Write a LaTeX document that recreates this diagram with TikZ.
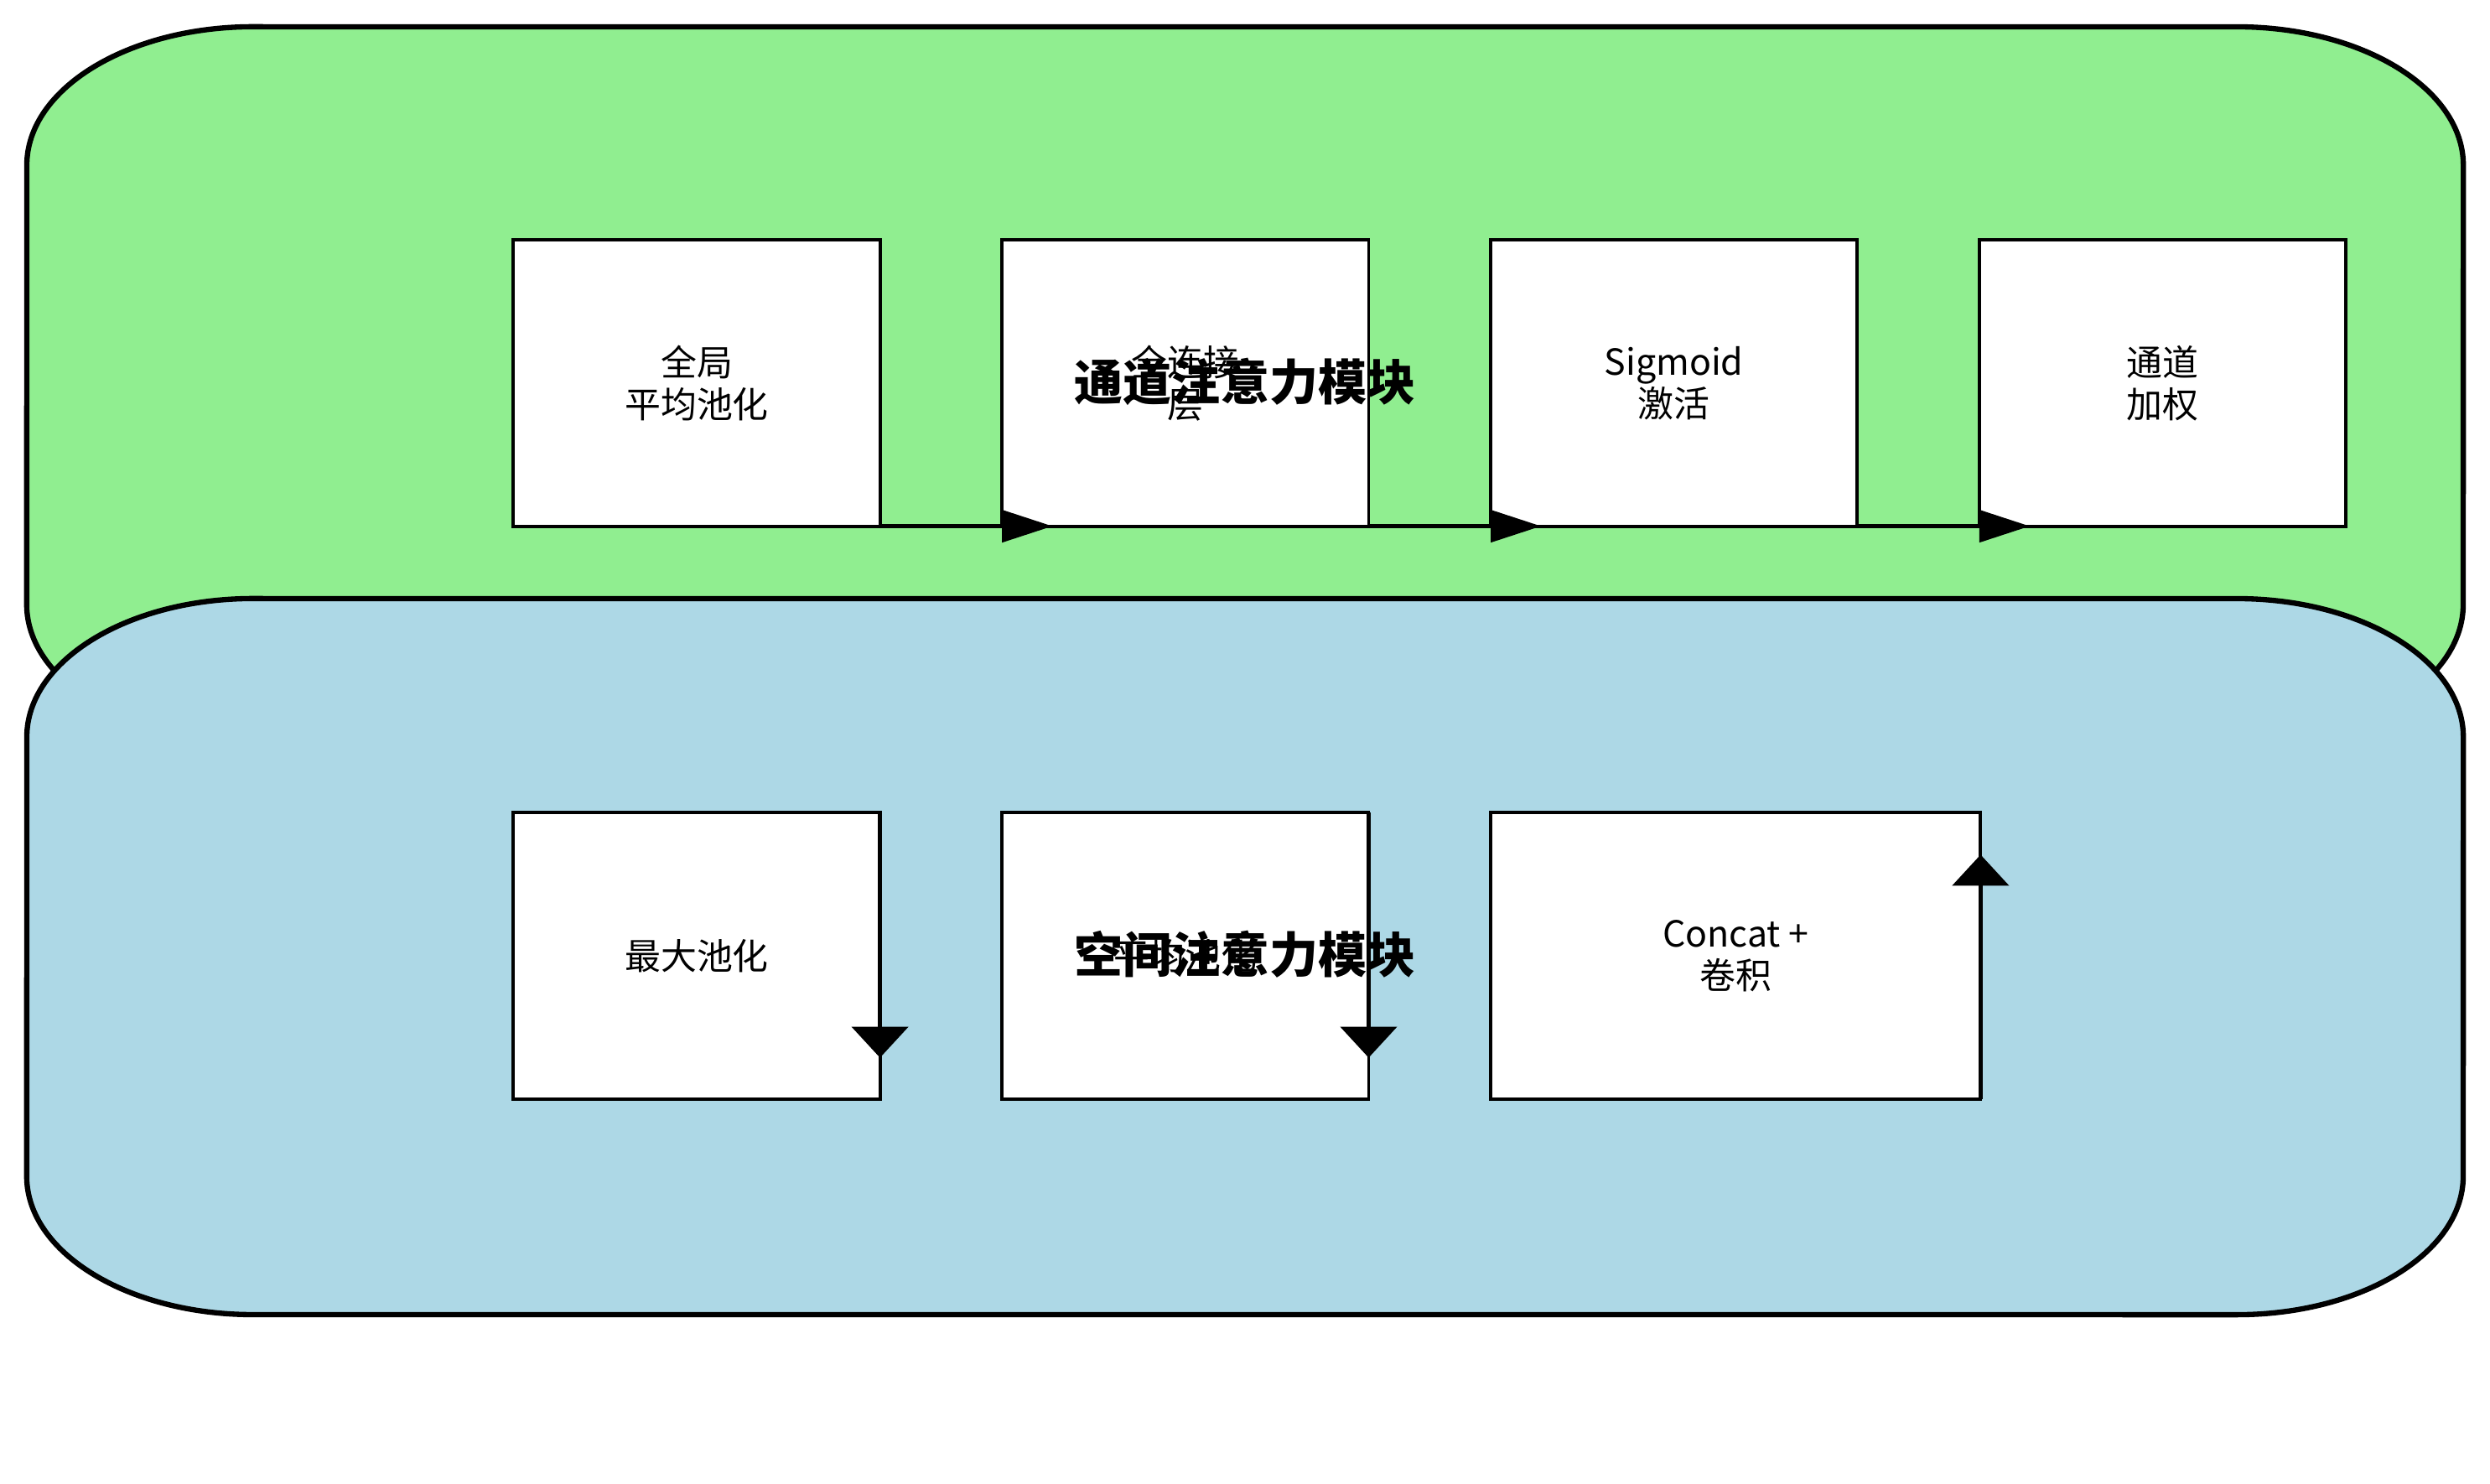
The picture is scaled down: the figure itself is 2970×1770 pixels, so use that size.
\documentclass[tikz,border=0pt]{standalone}
\usepackage{fontspec}
\setmainfont{Noto Sans CJK SC}
\usetikzlibrary{positioning}
\usetikzlibrary{arrows.meta}
\definecolor{chgreen}{HTML}{90EE90}
\definecolor{spblue}{HTML}{ADD8E6}
\tikzstyle{stage}=[rectangle, draw=black, fill=white, line width=1.1pt,
  minimum width=4.37cm, minimum height=3.41cm, inner sep=0pt, outer sep=0pt,
  align=center, font=\fontsize{12.2pt}{14.2pt}\selectfont]
\tikzstyle{widestage}=[stage, minimum width=5.84cm]
\tikzstyle{module}=[line width=1.8pt, draw=black]
\tikzstyle{heading}=[inner sep=0pt, font=\fontsize{16.5pt}{19pt}\selectfont\bfseries]
\tikzstyle{arrh}=[-{Triangle[length=0.6cm, width=0.38cm]}, line width=1.2pt,
  shorten >=-0.6cm]
\tikzstyle{arrv}=[-{Triangle[length=0.37cm, width=0.67cm]}, line width=1.5pt,
  shorten >=-0.37cm]

\begin{document}
\begin{tikzpicture}[x=0.01cm, y=0.01cm]
\useasboundingbox (0,0) rectangle (2970,1770);

% channel attention module
\draw[module, fill=chgreen] (302,1738) -- (2668,1738)
  arc[start angle=90, end angle=0, x radius=2.7cm, y radius=1.65cm]
  -- (2938,1049) arc[start angle=0, end angle=-90, x radius=2.7cm, y radius=1.65cm]
  -- (302,884) arc[start angle=270, end angle=180, x radius=2.7cm, y radius=1.65cm]
  -- (32,1573) arc[start angle=180, end angle=90, x radius=2.7cm, y radius=1.65cm]
  -- cycle;

% spatial attention module
\draw[module, fill=spblue] (302,1056) -- (2668,1056)
  arc[start angle=90, end angle=0, x radius=2.7cm, y radius=1.65cm]
  -- (2938,367) arc[start angle=0, end angle=-90, x radius=2.7cm, y radius=1.65cm]
  -- (302,202) arc[start angle=270, end angle=180, x radius=2.7cm, y radius=1.65cm]
  -- (32,891) arc[start angle=180, end angle=90, x radius=2.7cm, y radius=1.65cm]
  -- cycle;

\node[stage] (gap) at (831,1313) {全局\\平均池化};
\node[stage, right=1.455cm of gap] (fc) {全连接\\层};
\node[stage, right=1.455cm of fc] (sig) {Sigmoid\\激活};
\node[stage, right=1.455cm of sig] (weight) {通道\\加权};

\node[stage] (maxpool) at (831,630) {最大池化};
\node[stage, right=1.455cm of maxpool] (avgpool) {平均池化};
\node[widestage, right=1.455cm of avgpool] (concat) {Concat +\\卷积};

\draw[arrh] (gap.south east) -- (fc.south west);
\draw[arrh] (fc.south east) -- (sig.south west);
\draw[arrh] (sig.south east) -- (weight.south west);

\coordinate (maxend) at ([yshift=-2.55cm]maxpool.north east);
\draw[arrv] (maxpool.north east) -- (maxend);
\coordinate (avgend) at ([yshift=-2.55cm]avgpool.north east);
\draw[arrv] (avgpool.north east) -- (avgend);
\coordinate (concatend) at ([yshift=2.54cm]concat.south east);
\draw[arrv] (concat.south east) -- (concatend);

\node[heading] (catitle) at (1485,1315) {通道注意力模块};
\node[heading] (satitle) at (1485,632) {空间注意力模块};

\end{tikzpicture}
\end{document}
